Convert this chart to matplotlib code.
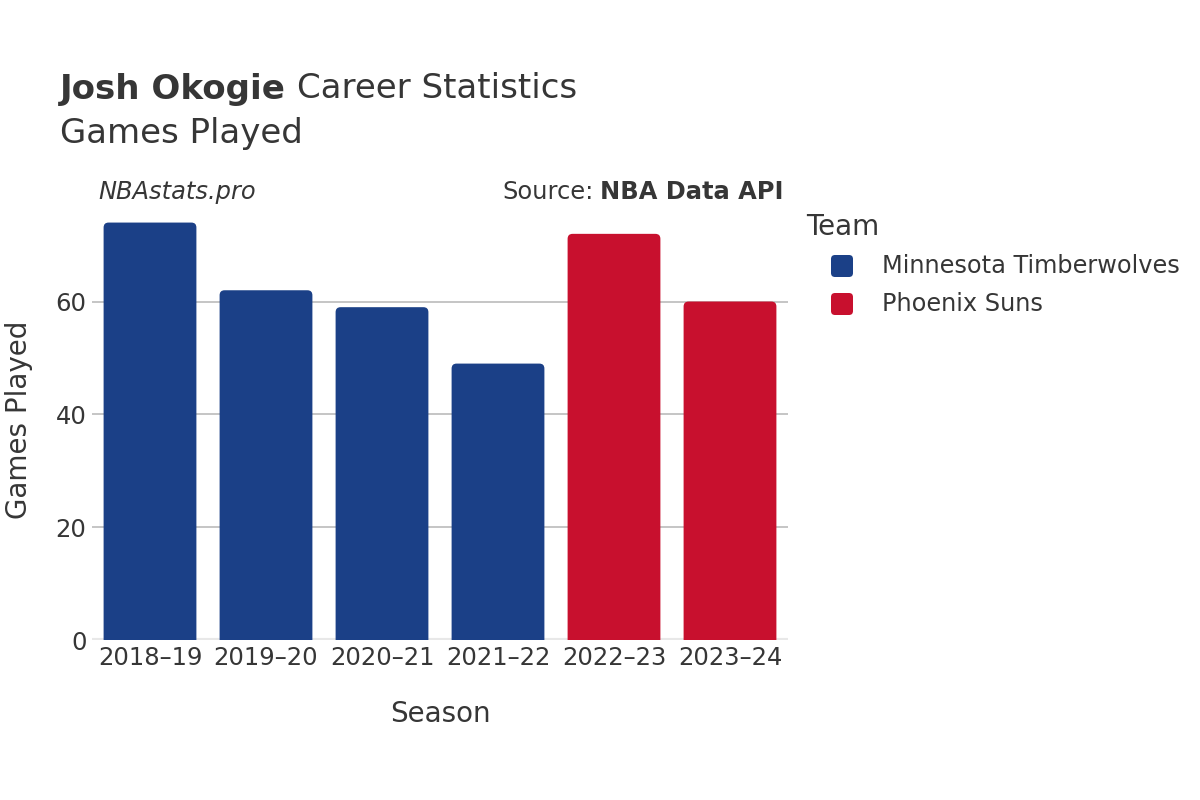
import matplotlib
matplotlib.use("Agg")
import matplotlib.pyplot as plt
from matplotlib.patches import FancyBboxPatch

seasons = ["2018\u201319", "2019\u201320", "2020\u201321", "2021\u201322", "2022\u201323", "2023\u201324"]
games = [74, 62, 59, 49, 72, 60]
teams = ["Minnesota Timberwolves", "Minnesota Timberwolves", "Minnesota Timberwolves",
         "Minnesota Timberwolves", "Phoenix Suns", "Phoenix Suns"]
team_names = ["Minnesota Timberwolves", "Phoenix Suns"]
team_colors = {"Minnesota Timberwolves": "#1b4087", "Phoenix Suns": "#c8102e"}

txt = "#363636"
plt.rcParams['font.family'] = ['DejaVu Sans']

fig = plt.figure(figsize=(12, 8), dpi=100)
ax = fig.add_axes([92/1200, 0.2, 696/1200, 0.55])

ymax = 78
ax.set_xlim(-0.5, len(seasons) - 0.5)
ax.set_ylim(0, ymax)

# rounded bars, in data units
px_x = (len(seasons)) / 696.0
px_y = ymax / 440.0
r = 5 * px_x
w = 0.8
for i, (s, g, t) in enumerate(zip(seasons, games, teams)):
    p = FancyBboxPatch((i - w/2, -2), w, g + 2,
                       boxstyle="round,pad=0,rounding_size=%f" % r,
                       mutation_aspect=px_y / px_x,
                       fc=team_colors[t], ec="none", zorder=3)
    ax.add_patch(p)

ax.set_yticks([0, 20, 40, 60])
ax.grid(axis='y', color='#bbbbbb', lw=1.2, zorder=0)
ax.axhline(0, color='#e8e8e8', lw=3, zorder=2)
ax.set_xticks(range(len(seasons)))
ax.set_xticklabels(seasons)
ax.tick_params(length=0, labelsize=17.5, labelcolor=txt, pad=4)
for sp in ax.spines.values():
    sp.set_visible(False)
ax.set_xlabel("Season", fontsize=20, color=txt, labelpad=22)
ax.set_ylabel("Games Played", fontsize=20, color=txt, labelpad=16)

# title
fig.canvas.draw()
rend = fig.canvas.get_renderer()
t1 = fig.text(60/1200, 1 - 89/800, "Josh Okogie", fontsize=24.5, fontweight='bold',
              color=txt, va='center')
bb = t1.get_window_extent(renderer=rend)
fig.text(bb.x1/1200 + 0.009, 1 - 89/800, "Career Statistics", fontsize=24.5,
         color=txt, va='center')
fig.text(60/1200, 1 - 133/800, "Games Played", fontsize=24.5, color=txt, va='center')

fig.text(98/1200, 1 - 192/800, "NBAstats.pro", fontsize=17.4, style='italic',
         color=txt, va='center')
t2 = fig.text(784/1200, 1 - 192/800, "NBA Data API", fontsize=17.4, fontweight='bold',
              color=txt, va='center', ha='right')
bb2 = t2.get_window_extent(renderer=rend)
fig.text(bb2.x0/1200 - 0.006, 1 - 192/800, "Source:", fontsize=17.4, color=txt,
         va='center', ha='right')

# legend
fig.text(806/1200, 1 - 227/800, "Team", fontsize=20, color=txt, va='center')
for k, name in enumerate(team_names):
    yc = 266 + 38 * k
    sq = FancyBboxPatch((831/1200, 1 - (yc + 11)/800), 22/1200, 22/800,
                        boxstyle="round,pad=0,rounding_size=%f" % (4/1200),
                        mutation_aspect=1.5, transform=fig.transFigure,
                        fc=team_colors[name], ec="none")
    fig.patches.append(sq)
    fig.text(882/1200, 1 - yc/800, name, fontsize=17.3, color=txt, va='center')

fig.savefig("out.png", dpi=100)
